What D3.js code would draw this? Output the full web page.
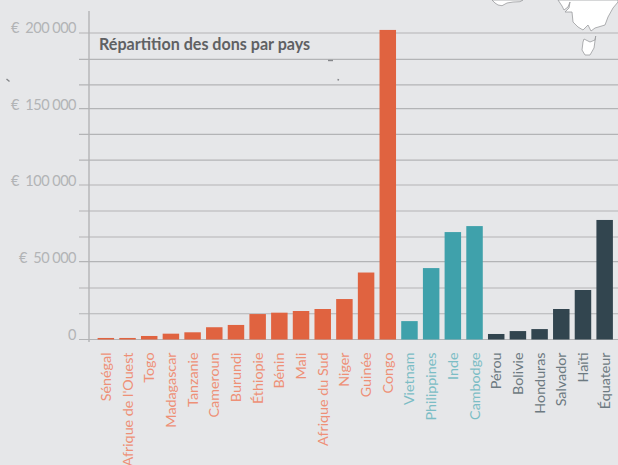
<!DOCTYPE html>
<html>
<head>
<meta charset="utf-8">
<script src="https://cdn.jsdelivr.net/npm/d3@7"></script>
<style>
  html, body { margin: 0; padding: 0; background: #e6e7e9; }
  svg { display: block; font-family: Lato, sans-serif; }
</style>
</head>
<body>
<svg></svg>
<script>
// begin: data
var countries = ["Sénégal", "Afrique de l'Ouest", "Togo", "Madagascar", "Tanzanie", "Cameroun", "Burundi", "Éthiopie", "Bénin", "Mali", "Afrique du Sud", "Niger", "Guinée", "Congo", "Vietnam", "Philippines", "Inde", "Cambodge", "Pérou", "Bolivie", "Honduras", "Salvador", "Haïti", "Équateur"];
var dons = [1000, 1000, 2300, 3800, 4700, 8000, 9500, 16600, 17500, 18600, 19900, 26400, 43700, 202000, 12000, 46600, 70100, 74000, 3600, 5500, 6800, 19900, 32300, 78000];
var regions = ["afrique", "afrique", "afrique", "afrique", "afrique", "afrique", "afrique", "afrique", "afrique", "afrique", "afrique", "afrique", "afrique", "afrique", "asie", "asie", "asie", "asie", "amerique", "amerique", "amerique", "amerique", "amerique", "amerique"];
var regionNames = ["afrique", "asie", "amerique"];
var barColors = ["#e06340", "#3fa1ab", "#32454f"];
var labelColors = ["#ee9077", "#7cbdc5", "#6d7a81"];
var tickValues = [0, 50000, 100000, 150000, 200000];
var tickLabels = ["0", "€  50 000", "€  100 000", "€  150 000", "€  200 000"];
var gridValues = [0, 16800, 33600, 50770, 66900, 83850, 100800, 117100, 133800, 150600, 166100, 182800, 200000];
// background map, bits of Australia and Tasmania
var australia = [[492,0],[495,3],[498,5],[502,5.7],[507,3],[513,2],[520,1.7],[523,0]];
var mainland = [[558,0],[562,6],[564,10],[568,7],[570,2],[569,8],[565,12],[572,12],[573,22],[578,27],[583,30],[588,25],[591,31],[595,28],[605,25],[608,17],[613,8],[618,2],[618,0]];
var tasmania = [[584,39],[590,42],[595,40],[595.7,36],[594,48],[590,55],[585,55],[582,50],[583,42]];
var specks = [[[6.5,79],[9.5,81.5]], [[328,60.5],[333,60.5]], [[337.5,79.5],[339,80]]];
// end: data

var width = 618, height = 465;
var axisX = 89, gridLeft = 79, gridRight = 618;

var svg = d3.select("svg").attr("width", width).attr("height", height);

var regionColor = d3.scaleOrdinal().domain(regionNames).range(barColors);
var textColor = d3.scaleOrdinal().domain(regionNames).range(labelColors);

var x = d3.scaleBand().domain(countries).range([95, 615.5]).paddingInner(0.24).paddingOuter(0.12);
var y = d3.scaleLinear().domain([0, 200000]).range([339.5, 33]);

// map behind the chart
var mapLine = d3.line();
svg.append("g").selectAll("path")
    .data([australia, mainland, tasmania])
    .enter().append("path")
    .attr("d", function(d){ return mapLine(d) + "Z"; })
    .style("fill", "#fff")
    .style("stroke", "#9a9c9e")
    .style("stroke-width", 0.8);

// grid
svg.append("g").selectAll("line")
    .data(gridValues)
    .enter().append("line")
    .attr("x1", gridLeft)
    .attr("x2", gridRight)
    .attr("y1", function(d){ return y(d); })
    .attr("y2", function(d){ return y(d); })
    .style("stroke", "#b3b4b6")
    .style("stroke-width", 1.2);

svg.append("g").selectAll("path")
    .data(specks)
    .enter().append("path")
    .attr("d", mapLine)
    .style("fill", "none")
    .style("stroke", "#85878a")
    .style("stroke-width", 1.4);

// vertical axis line
svg.append("line")
    .attr("x1", axisX).attr("x2", axisX)
    .attr("y1", 11).attr("y2", 342)
    .style("stroke", "#b3b4b6")
    .style("stroke-width", 1.4);

// y labels
svg.append("g").selectAll("text")
    .data(tickValues)
    .enter().append("text")
    .attr("x", 76)
    .attr("y", function(d){ return y(d); })
    .attr("text-anchor", "end")
    .style("white-space", "pre")
    .style("letter-spacing", "-0.5px")
    .style("font-size", "14.5px")
    .style("fill", "#b2b4b6")
    .text(function(d, i){ return tickLabels[i]; });

svg.append("text")
    .attr("x", 99)
    .attr("y", 50)
    .style("font-size", "16.1px")
    .style("font-weight", 700)
    .style("fill", "#5f6163")
    .text("Répartition des dons par pays");

// bars
svg.append("g").selectAll("rect")
    .data(countries)
    .enter().append("rect")
    .attr("x", function(d){ return x(d); })
    .attr("width", x.bandwidth())
    .attr("y", function(d, i){ return y(dons[i]); })
    .attr("height", function(d, i){ return y(0) - y(dons[i]); })
    .style("fill", function(d, i){ return regionColor(regions[i]); });

// country labels
svg.append("g").selectAll("text")
    .data(countries)
    .enter().append("text")
    .attr("transform", function(d){ return "translate(" + [x(d) + x.bandwidth()/2 + 5, 352.5] + ") rotate(-90)"; })
    .attr("text-anchor", "end")
    .style("font-size", "14.3px")
    .style("fill", function(d, i){ return textColor(regions[i]); })
    .text(function(d){ return d; });
</script>
</body>
</html>
